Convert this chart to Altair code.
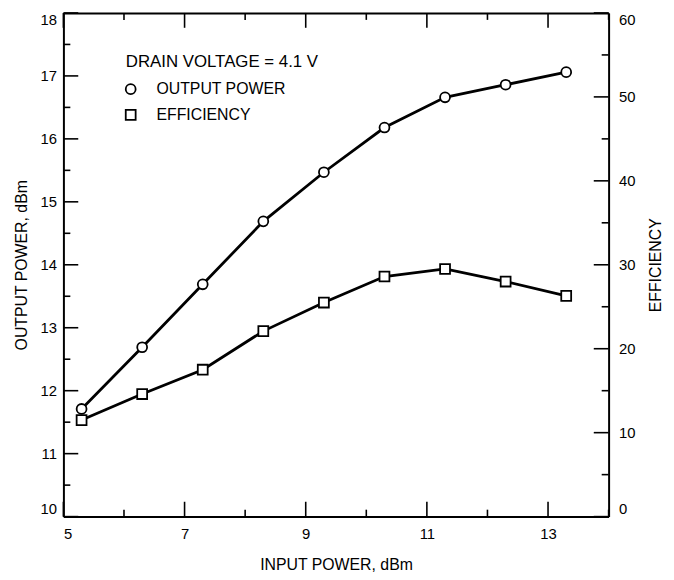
import altair as alt
import pandas as pd

# ---- data ----
input_power = [5.3, 6.3, 7.3, 8.3, 9.3, 10.3, 11.3, 12.3, 13.3]
output_power = [11.71, 12.69, 13.69, 14.69, 15.47, 16.18, 16.66, 16.86, 17.06]
efficiency = [11.5, 14.6, 17.5, 22.1, 25.5, 28.6, 29.5, 28.0, 26.3]
series_names = ["OUTPUT POWER", "EFFICIENCY"]
legend_title = "DRAIN VOLTAGE = 4.1 V"
x_ticks = [5, 6, 7, 8, 9, 10, 11, 12, 13, 14]
y_ticks = [10, 10.5, 11, 11.5, 12, 12.5, 13, 13.5, 14, 14.5, 15, 15.5, 16, 16.5, 17, 17.5, 18]
eff_ticks = [0, 5, 10, 15, 20, 25, 30, 35, 40, 45, 50, 55, 60]

W, H = 551, 509
MAJOR, MINOR = 15, 7

df_p = pd.DataFrame({"x": input_power, "value": output_power, "series": series_names[0]})
df_e = pd.DataFrame({"x": input_power, "value": efficiency, "series": series_names[1]})

x_major = [v for v in x_ticks if v % 2 == 1]
x_minor = [v for v in x_ticks if v % 2 == 0]
y_major = [v for v in y_ticks if v % 1 == 0]
y_minor = [v for v in y_ticks if v % 1 != 0]
e_major = [v for v in eff_ticks if v % 10 == 0]
e_minor = [v for v in eff_ticks if v % 10 != 0]

FONT = "Liberation Sans"
common_axis = dict(
    grid=False,
    ticks=False,
    domainColor="black",
    domainWidth=2,
    labelFont=FONT,
    labelFontSize=15,
    labelColor="black",
    labelFlush=True,
    labelOverlap=False,
    titleFont=FONT,
    titleFontSize=16,
    titleFontWeight="normal",
    titleColor="black",
)

x_scale = alt.Scale(domain=[5, 14], nice=False, zero=False)
p_scale = alt.Scale(domain=[10, 18], nice=False, zero=False)
e_scale = alt.Scale(domain=[0, 60], nice=False)

x_bottom = alt.Axis(orient="bottom", values=x_major, title="INPUT POWER, dBm",
                    labelPadding=10, titleY=48, titleBaseline="middle", **common_axis)
x_top = alt.Axis(orient="top", values=x_major, title=None, labels=False, **common_axis)
y_left = alt.Axis(orient="left", values=y_major, title="OUTPUT POWER, dBm",
                  labelPadding=7, titleX=-42, titleBaseline="middle", titleAngle=270,
                  **common_axis)
y_right = alt.Axis(orient="right", values=e_major, title="EFFICIENCY",
                   labelPadding=10, titleX=47, titleBaseline="middle", titleAngle=270,
                   **common_axis)

shape_scale = alt.Scale(domain=series_names, range=["circle", "square"])
tick_style = dict(color="black", strokeWidth=1.6)
point_style = dict(filled=True, fill="white", stroke="black", strokeWidth=1.8,
                   size=100, opacity=1)


def ticks_x(vals, length, top, axis):
    d = pd.DataFrame({"x": vals})
    if top:
        ys = dict(y=alt.value(0), y2=alt.value(length))
    else:
        ys = dict(y=alt.value(H), y2=alt.value(H - length))
    return alt.Chart(d).mark_rule(**tick_style).encode(
        x=alt.X("x:Q", scale=x_scale, axis=axis), **ys)


def ticks_y(vals, length, right, scale, axis):
    d = pd.DataFrame({"value": vals})
    if right:
        xs = dict(x=alt.value(W), x2=alt.value(W - length))
    else:
        xs = dict(x=alt.value(0), x2=alt.value(length))
    return alt.Chart(d).mark_rule(**tick_style).encode(
        y=alt.Y("value:Q", scale=scale, axis=axis), **xs)


def series_layer(df, y_scale, x_axis, y_axis):
    base = alt.Chart(df).encode(
        x=alt.X("x:Q", scale=x_scale, axis=x_axis),
        y=alt.Y("value:Q", scale=y_scale, axis=y_axis),
    )
    line = base.mark_line(color="black", strokeWidth=2.8)
    pts = base.mark_point(**point_style).encode(
        shape=alt.Shape("series:N", scale=shape_scale, legend=None))
    return line, pts


# ---- key drawn inside the plot (as in the reference) ----
one = pd.DataFrame({"k": [0]})
key_text = dict(font=FONT, color="black", align="left", baseline="middle")
key = [
    alt.Chart(one).mark_text(text=legend_title, fontSize=17, **key_text)
    .encode(x=alt.value(63), y=alt.value(50)),
    alt.Chart(one).mark_point(shape="circle", **point_style)
    .encode(x=alt.value(68), y=alt.value(77)),
    alt.Chart(one).mark_text(text=series_names[0], fontSize=16, **key_text)
    .encode(x=alt.value(94), y=alt.value(77)),
    alt.Chart(one).mark_point(shape="square", **point_style)
    .encode(x=alt.value(68), y=alt.value(103)),
    alt.Chart(one).mark_text(text=series_names[1], fontSize=16, **key_text)
    .encode(x=alt.value(94), y=alt.value(103)),
]

line_p, pts_p = series_layer(df_p, p_scale, x_bottom, y_left)
line_e, pts_e = series_layer(df_e, e_scale, x_top, y_right)

layer_p = alt.layer(
    ticks_x(x_major, MAJOR, False, x_bottom),
    ticks_x(x_minor, MINOR, False, x_bottom),
    ticks_y(y_major, MAJOR, False, p_scale, y_left),
    ticks_y(y_minor, MINOR, False, p_scale, y_left),
    line_p, pts_p, *key,
)
layer_e = alt.layer(
    ticks_x(x_major, MAJOR, True, x_top),
    ticks_x(x_minor, MINOR, True, x_top),
    ticks_y(e_major, MAJOR, True, e_scale, y_right),
    ticks_y(e_minor, MINOR, True, e_scale, y_right),
    line_e, pts_e,
)

chart = (
    alt.layer(layer_p, layer_e)
    .resolve_scale(y="independent")
    .resolve_axis(x="independent", y="independent")
    .properties(
        width=W, height=H,
        autosize="none",
        padding={"left": 56, "top": 2, "right": 58, "bottom": 55},
        background="white",
    )
    .configure_view(stroke=None)
)

chart.save("out.html", embed_options={"renderer": "svg", "actions": False})
